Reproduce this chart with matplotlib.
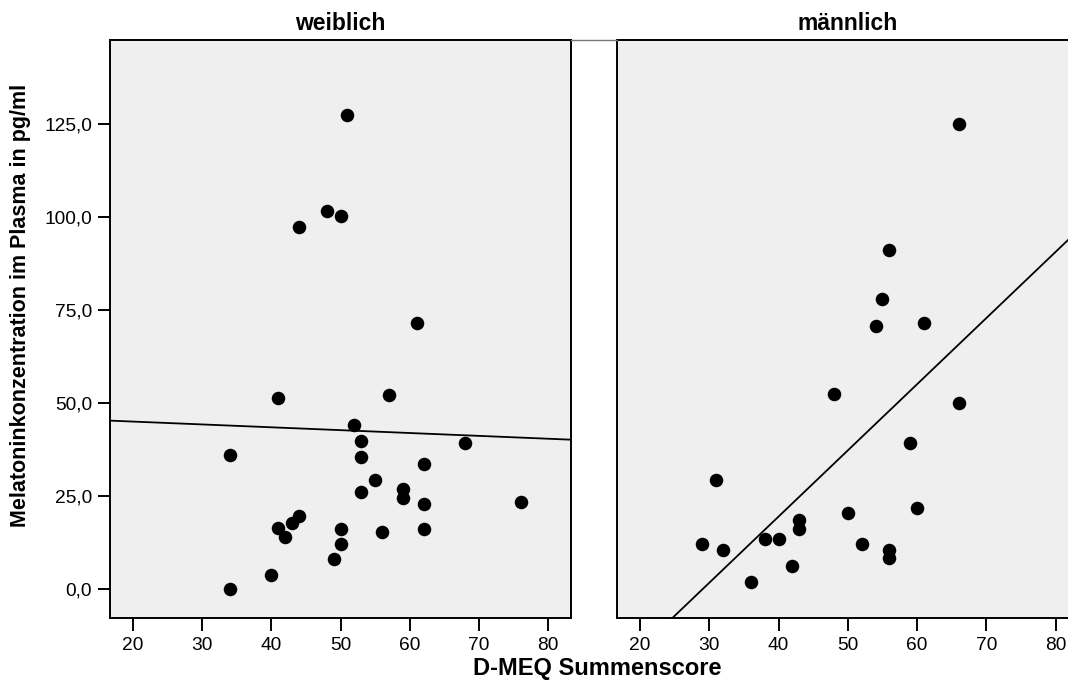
import numpy as np
import matplotlib
matplotlib.use("Agg")
import matplotlib.pyplot as plt
from matplotlib.lines import Line2D

plt.rcParams['font.family'] = ['Liberation Sans', 'DejaVu Sans']

# weiblich
w_score = [51, 48, 50, 44, 61, 41, 57, 52, 53, 68, 34, 53, 62, 55, 53, 59, 59, 62, 76,
           44, 43, 41, 42, 50, 50, 56, 62, 49, 40, 34]
w_mel = [127.5, 101.7, 100.3, 97.5, 71.6, 51.4, 52.2, 44.1, 39.7, 39.4, 36.2, 35.5, 33.7,
         29.4, 26.2, 26.9, 24.5, 23.0, 23.5, 19.7, 17.8, 16.4, 14.0, 16.1, 12.2, 15.4,
         16.2, 8.0, 3.9, 0.0]

# männlich
m_score = [66, 56, 55, 54, 61, 48, 66, 59, 31, 60, 50, 43, 43, 29, 32, 38, 40, 52, 56, 56, 42, 36]
m_mel = [125.1, 91.1, 78.0, 70.9, 71.5, 52.4, 50.1, 39.4, 29.3, 21.8, 20.4, 18.6, 16.2,
         12.2, 10.5, 13.4, 13.5, 12.2, 10.4, 8.3, 6.3, 1.9]

# Anpassungslinien (Achsenabschnitt, Steigung)
fit_w = (46.6, -0.077)
fit_m = (-51.7, 1.78)

groups = ["weiblich", "männlich"]
xticks = [20, 30, 40, 50, 60, 70, 80]
yticks = [0, 25, 50, 75, 100, 125]

fig = plt.figure(figsize=(10.68, 6.92), dpi=100)
W, H = 1068.0, 692.0
ax_l = fig.add_axes([110 / W, 1 - 617.7 / H, 461 / W, 577.7 / H])
ax_r = fig.add_axes([617.3 / W, 1 - 617.7 / H, 461 / W, 577.7 / H])

xlim = (16.72, 83.28)
ylim = (-7.7, 147.7)

for ax, name, xs, ys, fit in [(ax_l, groups[0], w_score, w_mel, fit_w),
                              (ax_r, groups[1], m_score, m_mel, fit_m)]:
    ax.set_facecolor('#efefef')
    ax.set_xlim(*xlim)
    ax.set_ylim(*ylim)
    ax.scatter(xs, ys, s=95, color='black', zorder=3, linewidths=0)
    xx = np.array(xlim)
    ax.plot(xx, fit[0] + fit[1] * xx, color='black', lw=1.3, zorder=2)
    ax.set_xticks(xticks)
    ax.set_xticklabels([str(t) for t in xticks], fontsize=13.8)
    ax.tick_params(axis='x', length=9, width=1.4, direction='out', pad=5)
    for sp in ax.spines.values():
        sp.set_linewidth(1.4)
    ax.set_title(name, fontsize=16.5, fontweight='bold', pad=7)

ax_l.set_yticks(yticks)
ax_l.set_yticklabels([f"{t:.1f}".replace('.', ',') for t in yticks], fontsize=13.8)
ax_l.tick_params(axis='y', length=9, width=1.4, direction='out', pad=4)
ax_r.set_yticks([])

fig.text(21 / W, 1 - 305 / H, "Melatoninkonzentration im Plasma in pg/ml", fontsize=15.5,
         fontweight='bold', rotation=90, ha='center', va='center')
fig.text(597 / W, 1 - 668 / H, "D-MEQ Summenscore", fontsize=17, fontweight='bold',
         ha='center', va='center')

# graue Linie zwischen den Panels oben
fig.add_artist(Line2D([571 / W, 617.3 / W], [1 - 40 / H, 1 - 40 / H], color='#777777', lw=1,
                      transform=fig.transFigure))

fig.savefig("out.png", dpi=100)
